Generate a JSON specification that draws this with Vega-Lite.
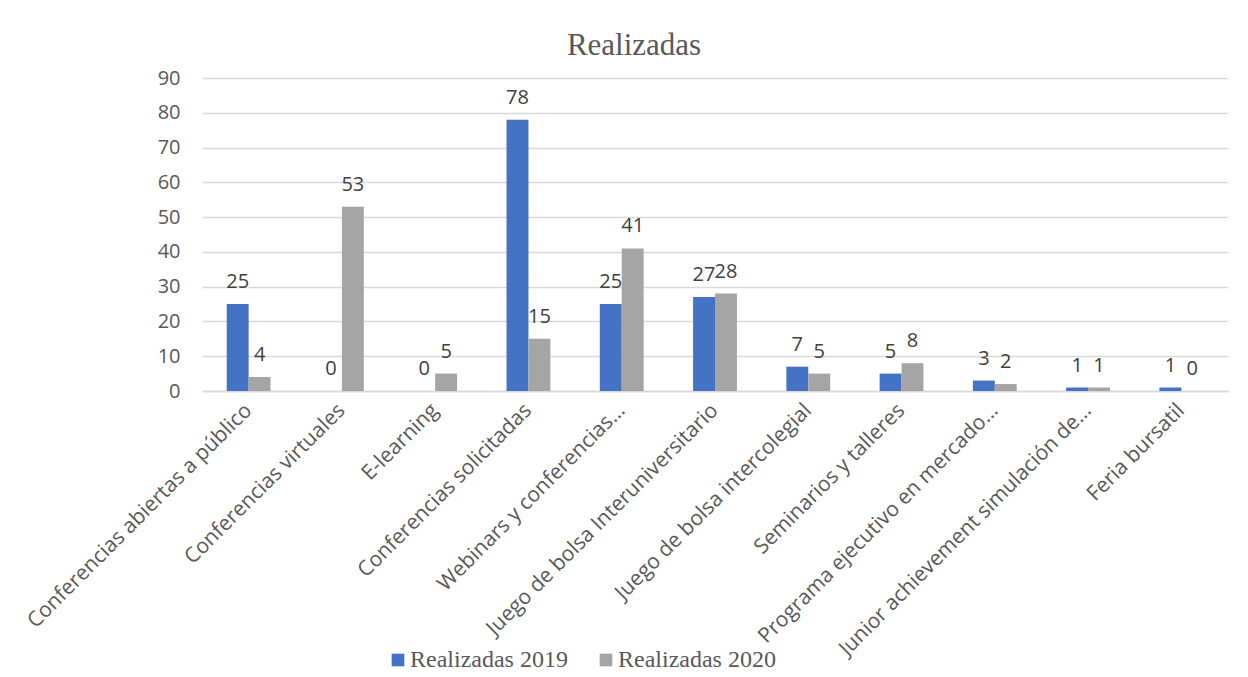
{
  "$schema": "https://vega.github.io/schema/vega-lite/v6.json",
  "width": 1026,
  "height": 313,
  "autosize": {"type": "none"},
  "padding": {"left": 202, "top": 78, "right": 20, "bottom": 286},
  "background": "white",
  "title": {
    "text": "Realizadas",
    "font": "Liberation Serif",
    "fontSize": 31,
    "fontWeight": "normal",
    "color": "#595959",
    "anchor": "middle",
    "dx": -81,
    "offset": 6
  },
  "config": {
    "view": {"stroke": null},
    "font": "Open Sans"
  },
  "data": {
    "values": [
      {"cat": "Conferencias abiertas a público", "series": "Realizadas 2019", "value": 25},
      {"cat": "Conferencias abiertas a público", "series": "Realizadas 2020", "value": 4},
      {"cat": "Conferencias virtuales", "series": "Realizadas 2019", "value": 0},
      {"cat": "Conferencias virtuales", "series": "Realizadas 2020", "value": 53},
      {"cat": "E-learning", "series": "Realizadas 2019", "value": 0},
      {"cat": "E-learning", "series": "Realizadas 2020", "value": 5},
      {"cat": "Conferencias solicitadas", "series": "Realizadas 2019", "value": 78},
      {"cat": "Conferencias solicitadas", "series": "Realizadas 2020", "value": 15},
      {"cat": "Webinars y conferencias…", "series": "Realizadas 2019", "value": 25},
      {"cat": "Webinars y conferencias…", "series": "Realizadas 2020", "value": 41},
      {"cat": "Juego de bolsa Interuniversitario", "series": "Realizadas 2019", "value": 27},
      {"cat": "Juego de bolsa Interuniversitario", "series": "Realizadas 2020", "value": 28},
      {"cat": "Juego de bolsa intercolegial", "series": "Realizadas 2019", "value": 7},
      {"cat": "Juego de bolsa intercolegial", "series": "Realizadas 2020", "value": 5},
      {"cat": "Seminarios y talleres", "series": "Realizadas 2019", "value": 5},
      {"cat": "Seminarios y talleres", "series": "Realizadas 2020", "value": 8},
      {"cat": "Programa ejecutivo en mercado…", "series": "Realizadas 2019", "value": 3},
      {"cat": "Programa ejecutivo en mercado…", "series": "Realizadas 2020", "value": 2},
      {"cat": "Junior achievement simulación de…", "series": "Realizadas 2019", "value": 1},
      {"cat": "Junior achievement simulación de…", "series": "Realizadas 2020", "value": 1},
      {"cat": "Feria bursatil", "series": "Realizadas 2019", "value": 1},
      {"cat": "Feria bursatil", "series": "Realizadas 2020", "value": 0}
    ]
  },
  "encoding": {
    "x": {
      "field": "cat",
      "type": "nominal",
      "sort": null,
      "scale": {"paddingInner": 0.53, "paddingOuter": 0.265},
      "axis": {
        "title": null,
        "labelAngle": -45,
        "labelAlign": "right",
        "labelBaseline": "middle",
        "labelFont": "Open Sans",
        "labelFontSize": 21,
        "labelColor": "#595959",
        "labelLimit": 0,
        "labelPadding": 16,
        "ticks": false,
        "domainColor": "#D9D9D9",
        "domainWidth": 1.5,
        "grid": false
      }
    },
    "xOffset": {"field": "series", "type": "nominal"},
    "y": {
      "field": "value",
      "type": "quantitative",
      "scale": {"domain": [0, 90], "nice": false},
      "axis": {
        "title": null,
        "values": [0, 10, 20, 30, 40, 50, 60, 70, 80, 90],
        "labelFont": "Open Sans",
        "labelFontSize": 20,
        "labelColor": "#595959",
        "labelPadding": 22,
        "ticks": false,
        "domain": false,
        "gridColor": "#D9D9D9",
        "gridWidth": 1.5
      }
    }
  },
  "layer": [
    {
      "mark": {"type": "bar"},
      "encoding": {
        "color": {
          "field": "series",
          "type": "nominal",
          "scale": {"domain": ["Realizadas 2019", "Realizadas 2020"], "range": ["#4472C4", "#A5A5A5"]},
          "legend": {
            "title": null,
            "orient": "none",
            "direction": "horizontal",
            "legendX": 184,
            "legendY": 570,
            "symbolType": "square",
            "symbolSize": 160,
            "symbolStrokeWidth": 0,
            "labelFont": "Liberation Serif",
            "labelFontSize": 24,
            "labelColor": "#595959",
            "labelOffset": 0,
            "columnPadding": 26,
            "labelLimit": 0
          }
        }
      }
    },
    {
      "mark": {"type": "text", "baseline": "alphabetic", "dy": -16, "fontSize": 20, "font": "Open Sans", "color": "#404040"},
      "encoding": {
        "text": {"field": "value", "type": "quantitative"}
      }
    }
  ]
}
